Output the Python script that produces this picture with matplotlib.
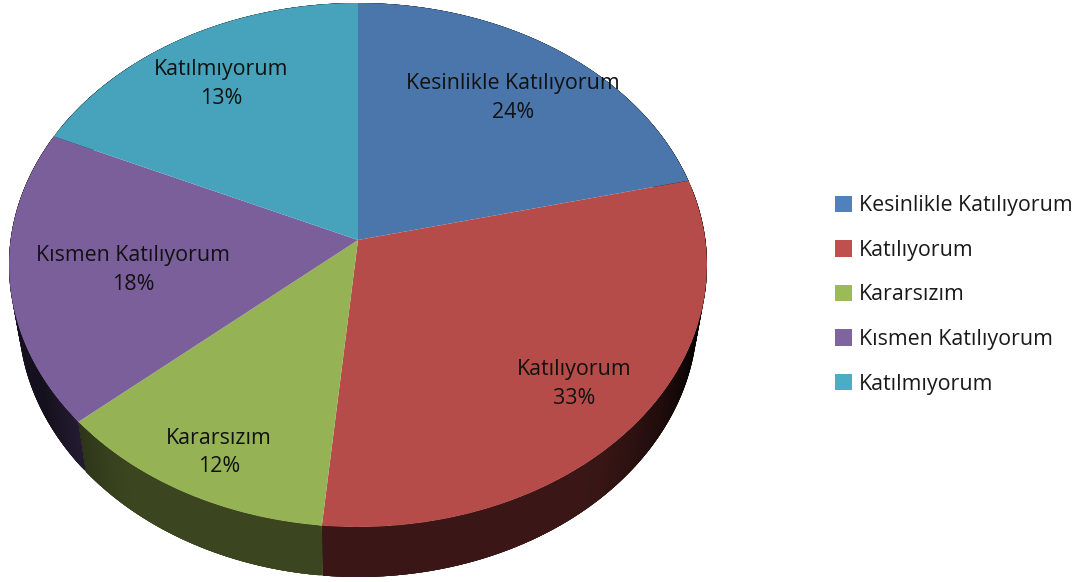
import numpy as np
import matplotlib
matplotlib.use('Agg')
import matplotlib.pyplot as plt
from matplotlib.collections import PolyCollection
from matplotlib.patches import Patch
from matplotlib.transforms import Transform

categories = ['Kesinlikle Katılıyorum', 'Katılıyorum', 'Kararsızım', 'Kısmen Katılıyorum', 'Katılmıyorum']
# the drawn slices do not agree with the printed percentages, so both are kept
slice_sizes = [21.25, 30.25, 12.1, 18.2, 18.2]
percent_labels = ['24%', '33%', '12%', '18%', '13%']

top_colors = ['#4a76ab', '#b54c49', '#95b254', '#7a5f9a', '#47a3bc']
legend_colors = ['#4f81bd', '#c0504d', '#9bbb59', '#8064a2', '#4bacc6']
wall_colors = ['#1c2c40', '#3a1716', '#3b4620', '#2e2440', '#1b3d47']

label_pos = [(513, 83), (574, 370), (219, 438), (133, 255), (221, 69)]
percent_pos = [(513, 113), (574, 399), (219, 467), (133, 284), (221, 99)]

cx, cy = 358, 240
rx, ry = 347.4, 259.6
tilt = 0.0954
depth = 50
shrink = 0.973

plt.rcParams['font.family'] = ['Open Sans', 'DejaVu Sans']


class Tilted(Transform):
    # unit circle of the pie -> pixels, far side smaller than near side
    input_dims = 2
    output_dims = 2

    def transform_non_affine(self, values):
        values = np.asarray(values, dtype=float)
        d = 1 + tilt * values[:, 1]
        return np.column_stack((cx + rx * values[:, 0] / d, cy - ry * values[:, 1] / d))


fig = plt.figure(figsize=(10.79, 5.82), dpi=100)
ax = fig.add_axes([0, 0, 1, 1])

wedges, _ = ax.pie(slice_sizes, colors=top_colors, startangle=90, counterclock=False,
                   wedgeprops={'linewidth': 0}, radius=1)
ax.set_aspect('auto')
ax.set_xlim(0, 1079)
ax.set_ylim(582, 0)
ax.axis('off')

tilted = Tilted()
for w in wedges:
    w.set_transform(tilted + ax.transData)
    w.set_zorder(3)

# side wall, thin strips so the shade can change along the rim
edges = np.concatenate(([0], np.cumsum(slice_sizes))) / sum(slice_sizes) * 2 * np.pi
for i in range(len(slice_sizes)):
    t = np.linspace(edges[i], edges[i + 1], 120)
    pts = tilted.transform_non_affine(np.column_stack((np.sin(t), np.cos(t))))
    low = np.column_stack((cx + (pts[:, 0] - cx) * shrink, pts[:, 1] + depth))
    base = np.array(matplotlib.colors.to_rgb(wall_colors[i]))
    polys, shades = [], []
    for j in range(len(t) - 1):
        # each strip runs over the next ones so no seams show
        k = min(j + 4, len(t) - 1)
        polys.append(np.vstack((pts[j:k + 1], low[j:k + 1][::-1])))
        u = abs(np.sin(t[j]))
        shade = 1.0 if u < 0.6 else 1.0 - ((u - 0.6) / 0.4) ** 1.5
        # left edge stays a little lighter than the right one
        if np.sin(t[j]) < 0:
            shade = max(shade, 0.45)
        shades.append(base * shade)
    ax.add_collection(PolyCollection(polys, facecolors=shades, edgecolors='none', zorder=2))

for name, pct, p, q in zip(categories, percent_labels, label_pos, percent_pos):
    ax.text(p[0], p[1], name, fontsize=15.4, ha='center', va='center', color='#111111', zorder=5)
    ax.text(q[0], q[1], pct, fontsize=15.4, ha='center', va='center', color='#111111', zorder=5)

handles = [Patch(facecolor=c, edgecolor='none') for c in legend_colors]
ax.legend(handles, categories, loc='center left', bbox_to_anchor=(822 / 1079, 1 - 295 / 582), frameon=False,
          fontsize=15.4, handlelength=0.81, handleheight=0.81, handletextpad=0.3, labelspacing=1.1,
          labelcolor='#1a1a1a', borderpad=0, borderaxespad=0.6)

fig.savefig('out.png', dpi=100)
